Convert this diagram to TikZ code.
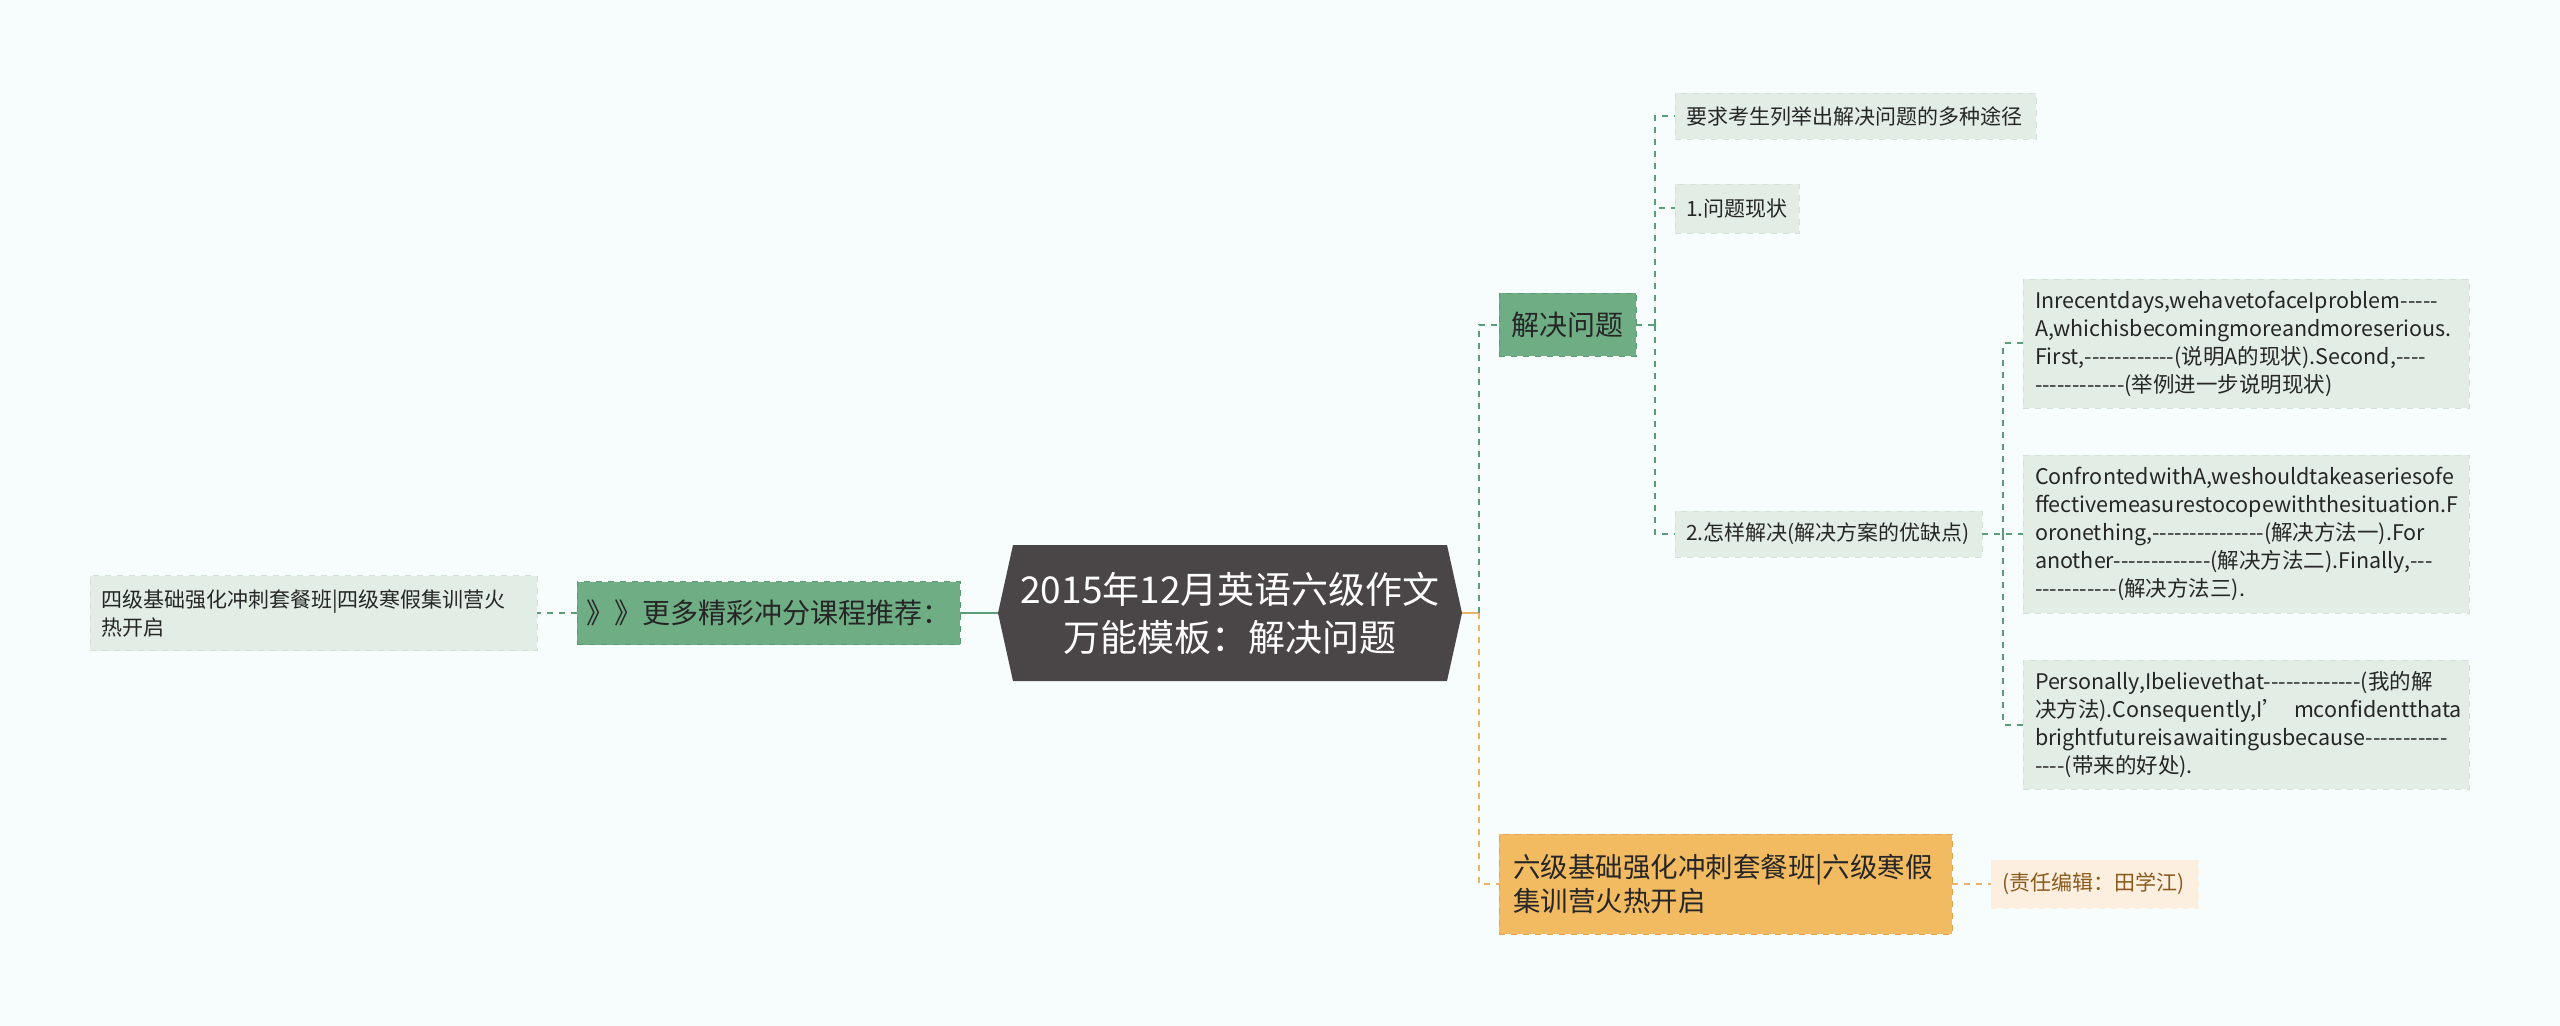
\documentclass[tikz,border=0pt]{standalone}
\usepackage{fontspec}
\setmainfont{Noto Sans CJK SC}[Ligatures=TeXOff]
\definecolor{bgcol}{HTML}{F7FCFC}
\definecolor{rootgray}{HTML}{4A4546}
\definecolor{greenfill}{HTML}{6FAE85}
\definecolor{greenedge}{HTML}{5A9870}
\definecolor{leaffill}{HTML}{E2EEE5}
\definecolor{leafedge}{HTML}{D2E2D6}
\definecolor{linegreen}{HTML}{5B9C7A}
\definecolor{orangefill}{HTML}{F2BB62}
\definecolor{orangeedge}{HTML}{E3A447}
\definecolor{lineorange}{HTML}{E8B46A}
\definecolor{peachfill}{HTML}{FCEFDF}
\definecolor{browntext}{HTML}{8A5A1C}
\definecolor{darktext}{HTML}{262626}
\newcommand\keepline{\exhyphenpenalty=10000\hyphenpenalty=10000\relax}
\tikzset{
  rootbox/.style={text=white, font=\fontsize{18.5}{24}\selectfont, align=center, minimum width=232pt, minimum height=68.5pt, inner sep=0pt},
  greenbox/.style={draw=greenedge, dashed, fill=greenfill, text=darktext, font=\fontsize{14}{17}\selectfont, minimum height=31.5pt, inner sep=0pt},
  orangebox/.style={draw=orangeedge, dashed, fill=orangefill, text=darktext, font=\fontsize{13.75}{17}\selectfont\keepline, align=left, minimum height=50pt, inner xsep=7pt, inner ysep=0pt},
  leafbox/.style={draw=leafedge, dashed, fill=leaffill, text=darktext, font=\fontsize{10.5}{14}\selectfont\keepline, align=left, minimum height=23pt, inner xsep=5.5pt, inner ysep=0pt},
  textbox/.style={leafbox, font=\fontsize{10.75}{14}\selectfont\keepline, inner xsep=6pt, text width=211pt},
  peachbox/.style={draw=peachfill, dashed, fill=peachfill, text=browntext, font=\fontsize{10.5}{14}\selectfont, align=left, minimum height=24pt, inner xsep=5.5pt, inner ysep=0pt},
  greenline/.style={draw=linegreen, line width=1pt},
  greendash/.style={greenline, dash pattern=on 3pt off 3pt},
  orangeline/.style={draw=lineorange, line width=1pt},
  orangedash/.style={orangeline, dash pattern=on 3pt off 3pt}
}
\begin{document}
\begin{tikzpicture}[x=0.5pt, y=-0.5pt]
\fill[bgcol] (0,0) rectangle (2560,1026);
\useasboundingbox (0,0) rectangle (2560,1026);
\fill[rootgray] (998,613) -- (1013,545) -- (1447,545) -- (1462,613) -- (1447,681) -- (1013,681) -- cycle;
\node[rootbox] (root) at (1230,613) {2015年12月英语六级作文\\万能模板：解决问题};
\node[greenbox, minimum width=191.5pt] (more) at (768.5,613) {》》更多精彩冲分课程推荐：};
\node[leafbox, text width=212.5pt, minimum height=37.5pt] (leafL) at (313.5,613) {四级基础强化冲刺套餐班|四级寒假集训营火\\热开启};
\node[greenbox, minimum width=68.5pt] (solve) at (1567.5,325) {解决问题};
\node[leafbox, text width=169.5pt] (ask) at (1855.5,116) {要求考生列举出解决问题的多种途径};
\node[leafbox, text width=51pt, minimum height=24.5pt] (now) at (1737,208.5) {1.问题现状};
\node[leafbox, text width=142.5pt] (how) at (1828.5,534) {2.怎样解决(解决方案的优缺点)};
\node[textbox, minimum height=64.5pt] (boxA) at (2246,343.5) {Inrecentdays,wehavetofaceIproblem-----\\A,whichisbecomingmoreandmoreserious.\\First,------------(说明A的现状).Second,----\\------------(举例进一步说明现状)};
\node[textbox, minimum height=79pt] (boxB) at (2246,534) {ConfrontedwithA,weshouldtakeaseriesofe\\ffectivemeasurestocopewiththesituation.F\\oronething,---------------(解决方法一).For\\another-------------(解决方法二).Finally,---\\-----------(解决方法三).};
\node[textbox, minimum height=64.5pt] (boxC) at (2246,724.5) {Personally,Ibelievethat-------------(我的解\\决方法).Consequently,I’\kern0.45em mconfidentthata\\brightfutureisawaitingusbecause-----------\\----(带来的好处).};
\node[orangebox, text width=212.5pt] (six) at (1725.5,884) {六级基础强化冲刺套餐班|六级寒假\\集训营火热开启};
\node[peachbox, text width=92.5pt] (editor) at (2094.5,884) {(责任编辑：田学江)};
\coordinate (fork1) at (1479,613);
\coordinate (fork2) at (1655,325);
\coordinate (fork3) at (2003,534);
\draw[greenline] (root.west) -- (more.east);
\draw[greendash] (more.west) -- (leafL.east);
\draw[orangeline] (root.east) -- (fork1);
\draw[greendash] (fork1) |- (solve.west);
\draw[orangedash] (fork1) |- (six.west);
\draw[greendash] (solve.east) -- (fork2);
\draw[greendash] (fork2) |- (ask.west);
\draw[greendash] (fork2) |- (now.west);
\draw[greendash] (fork2) |- (how.west);
\draw[greendash] (how.east) -- (boxB.west);
\draw[greendash] (fork3) |- (boxA.west);
\draw[greendash] (fork3) |- (boxC.west);
\draw[orangedash] (six.east) -- (editor.west);
\end{tikzpicture}
\end{document}
